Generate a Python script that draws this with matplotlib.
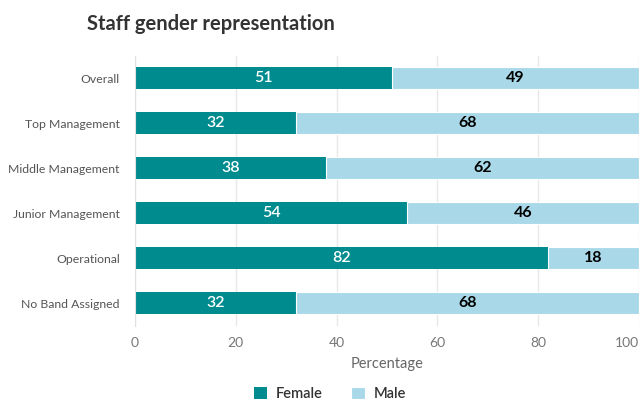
import numpy as np
import matplotlib.pyplot as plt

plt.rcParams['font.family'] = ['Lato', 'DejaVu Sans']

categories = ["Overall", "Top Management", "Middle Management",
              "Junior Management", "Operational", "No Band Assigned"]
female = [51, 32, 38, 54, 82, 32]
male = [49, 68, 62, 46, 18, 68]

c_female = "#008b8f"
c_male = "#a9d9e8"

fig = plt.figure(figsize=(6.4, 4.03), dpi=100)
ax = fig.add_axes([0.211, 0.192, 0.787, 0.670])

y = np.arange(len(categories))
bf = ax.barh(y, female, height=0.49, color=c_female, label="Female", zorder=2)
bm = ax.barh(y, male, left=female, height=0.49, color=c_male, label="Male", zorder=2,
             edgecolor="white", linewidth=0.8)

for i in range(len(categories)):
    ax.text(female[i] / 2, y[i], str(female[i]), ha="center", va="center",
            color="white", fontsize=11.5, fontweight="semibold", zorder=3)
    ax.text(female[i] + male[i] / 2, y[i], str(male[i]), ha="center", va="center",
            color="black", fontsize=11.5, fontweight="bold", zorder=3)

ax.set_ylim(len(categories) - 0.5, -0.5)
ax.set_xlim(0, 100)
ax.set_yticks(y)
ax.set_yticklabels(categories, fontsize=8.8, color="#555555")
ax.set_xticks([0, 20, 40, 60, 80, 100])
ax.tick_params(axis="x", colors="#777777", labelsize=10, length=0, pad=8)
ax.tick_params(axis="y", length=0, pad=11)
# last tick label sits inside the figure edge
ax.get_xticklabels()[-1].set_horizontalalignment("right")
ax.grid(axis="x", color="#e8e8e8", linewidth=1, zorder=0)
for s in ["top", "right", "bottom"]:
    ax.spines[s].set_visible(False)
ax.spines["left"].set_color("#e0e0e0")
ax.set_xlabel("Percentage", fontsize=10.5, color="#666666", labelpad=6)

fig.text(0.136, 0.94, "Staff gender representation", fontsize=14.5,
         fontweight="bold", color="#333333", ha="left", va="center")

leg = fig.legend(handles=[bf, bm], labels=["Female", "Male"], loc="lower center",
                 bbox_to_anchor=(0.515, -0.028), ncol=2, frameon=False,
                 fontsize=10.5, handlelength=0.9, handleheight=0.9,
                 columnspacing=2.0, handletextpad=0.6)
for t in leg.get_texts():
    t.set_color("#333333")
    t.set_fontweight("semibold")

fig.savefig("out.png", dpi=100)
